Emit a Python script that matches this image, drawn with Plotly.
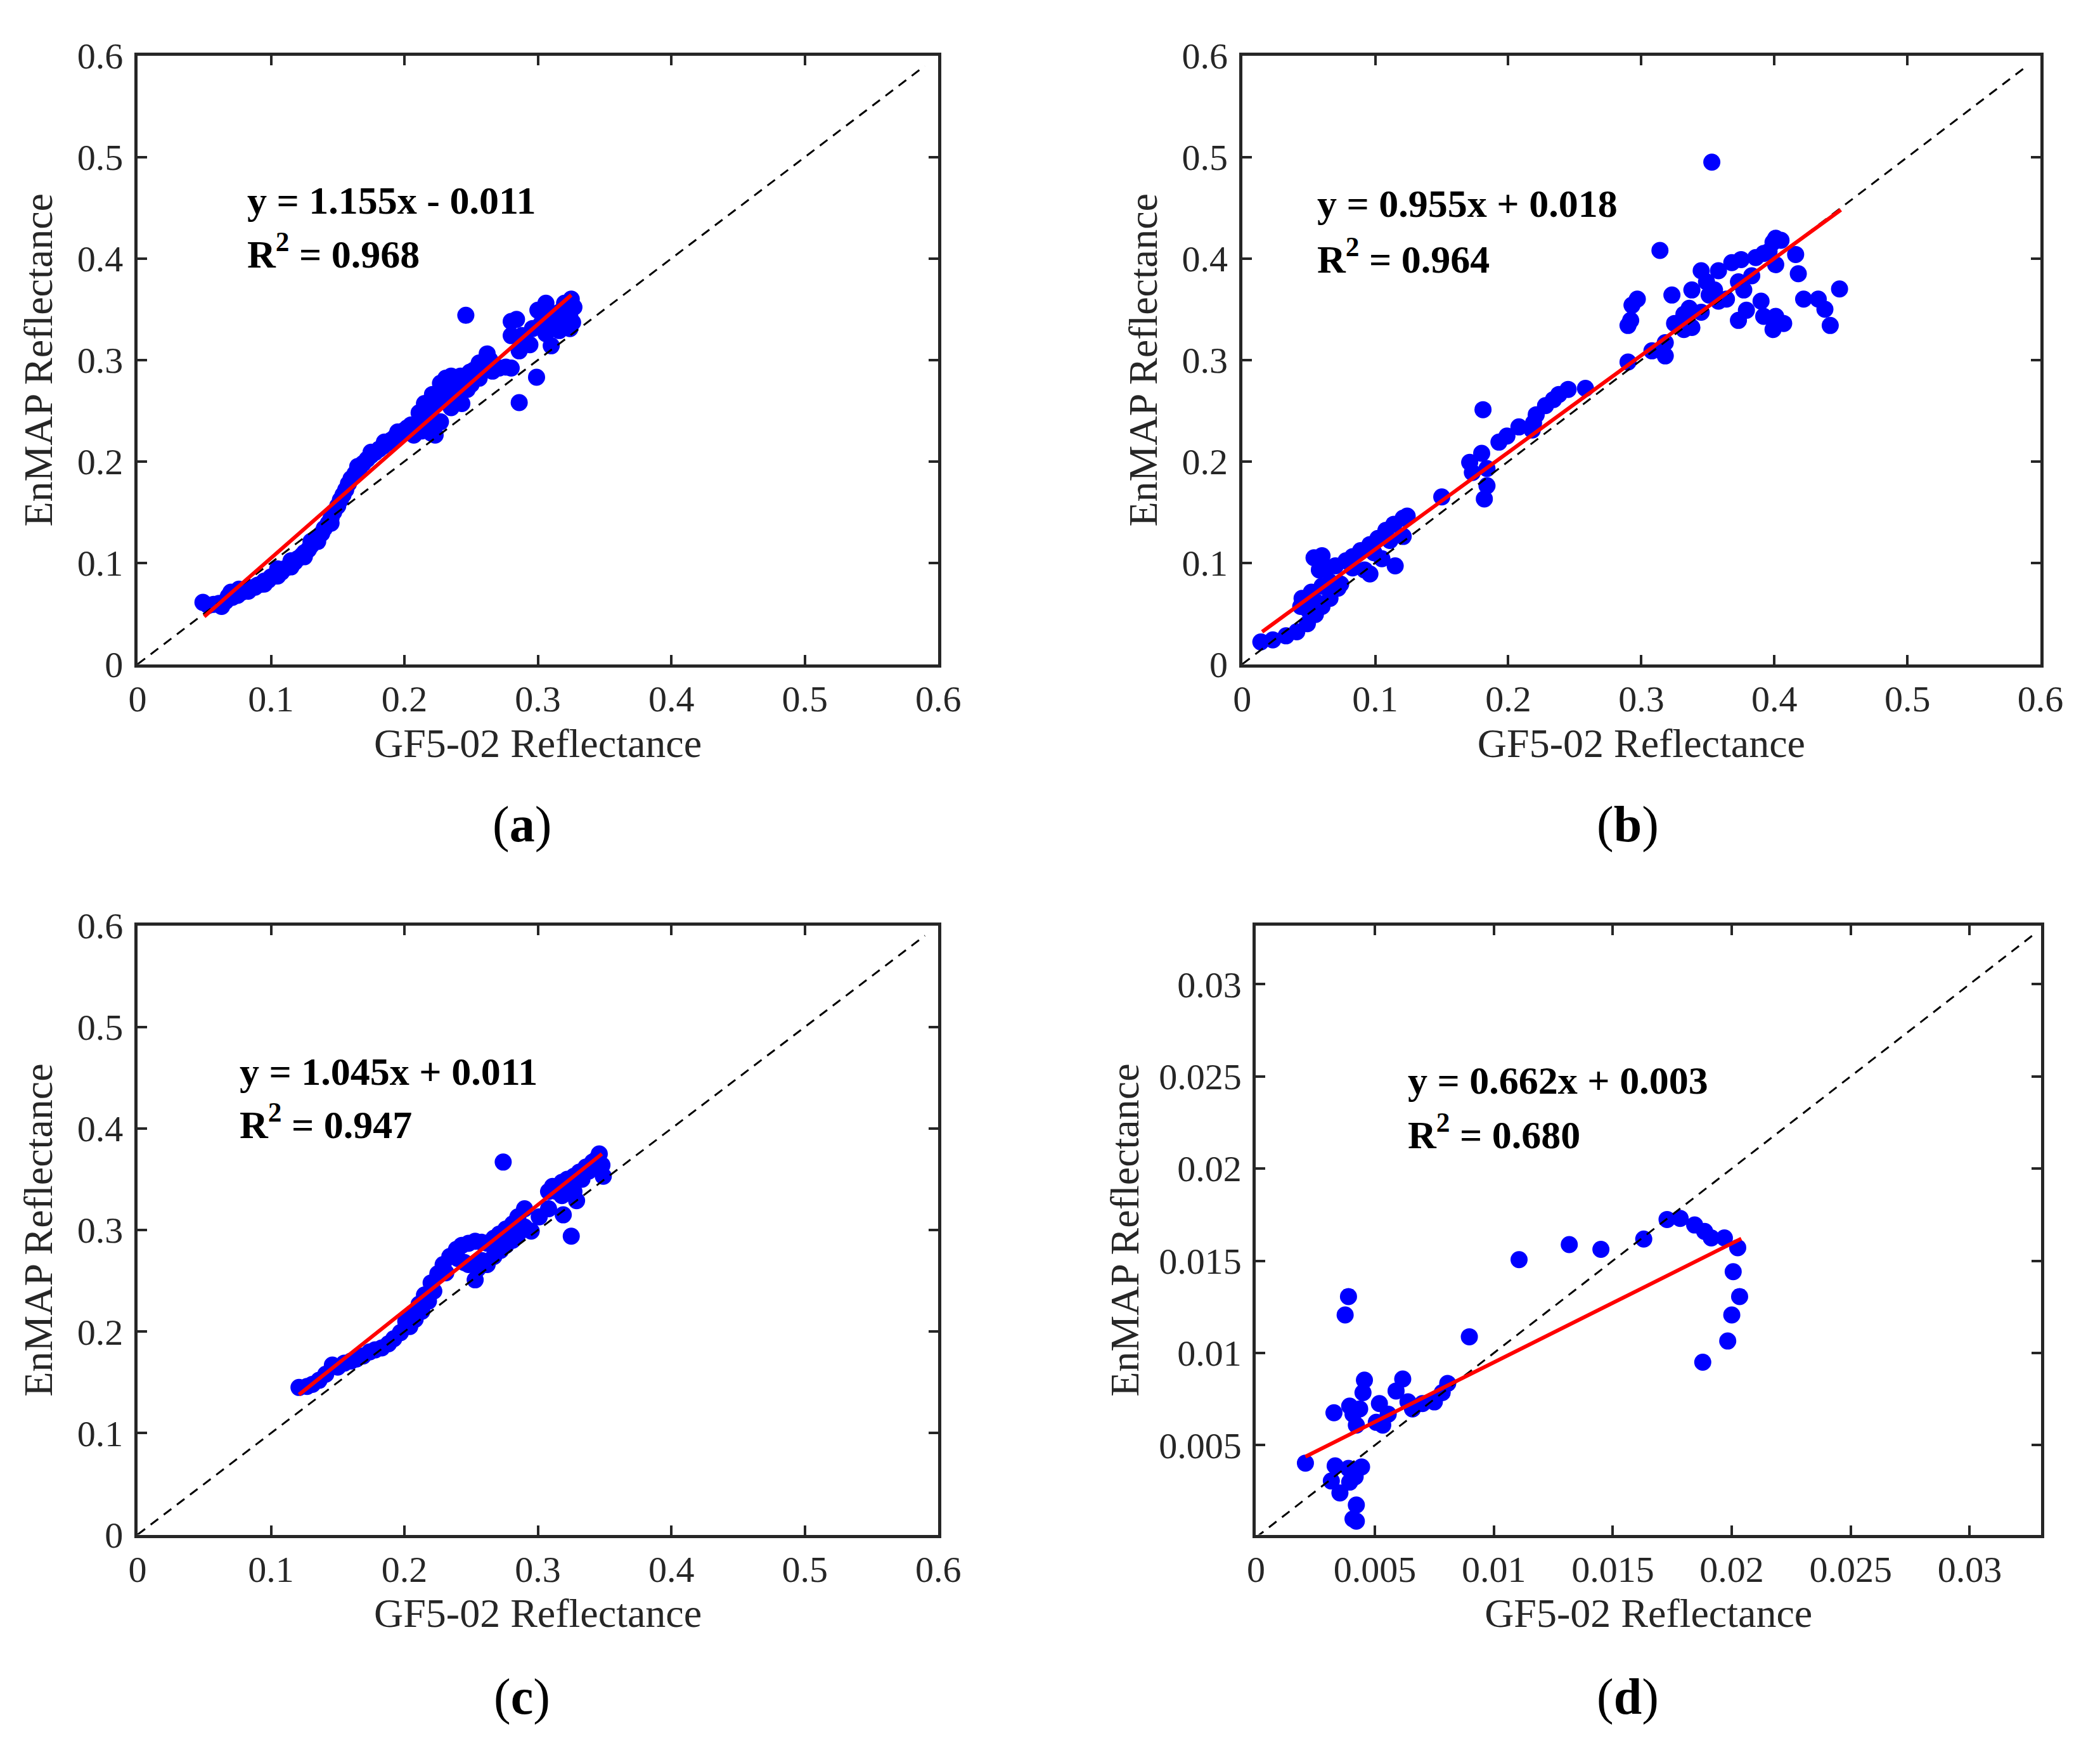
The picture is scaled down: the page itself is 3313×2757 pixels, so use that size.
import plotly.graph_objects as go
from plotly.subplots import make_subplots

# ---------------- data ----------------
# (a)
a_x = [0.049, 0.053, 0.057, 0.061, 0.063, 0.066, 0.068, 0.070, 0.071, 0.073, 0.075, 0.076, 0.078,
       0.080, 0.083, 0.085, 0.088, 0.090, 0.093, 0.095, 0.095, 0.098, 0.100, 0.103, 0.105, 0.105,
       0.105, 0.108, 0.110, 0.113, 0.115, 0.115, 0.115, 0.118, 0.120, 0.123, 0.125, 0.125, 0.128,
       0.130, 0.130, 0.133, 0.135, 0.135, 0.138, 0.140, 0.143, 0.145, 0.145, 0.147, 0.150, 0.152,
       0.154, 0.156, 0.158, 0.160, 0.163, 0.165, 0.166, 0.169, 0.172, 0.175, 0.175, 0.178, 0.181,
       0.184, 0.185, 0.187, 0.190, 0.193, 0.195, 0.196, 0.199, 0.202, 0.205,
       0.207, 0.210, 0.211, 0.213, 0.215, 0.215, 0.218, 0.220, 0.220, 0.221, 0.223, 0.225, 0.227,
       0.227, 0.230, 0.231, 0.233, 0.235, 0.235, 0.238, 0.240, 0.242, 0.243, 0.245, 0.247, 0.249,
       0.250, 0.252, 0.253, 0.256, 0.256, 0.258, 0.260, 0.262, 0.264, 0.266, 0.268, 0.271, 0.276,
       0.280, 0.280, 0.284, 0.280, 0.286, 0.288, 0.290, 0.294, 0.296, 0.300, 0.302, 0.306, 0.306,
       0.310, 0.312, 0.316, 0.316, 0.318, 0.320, 0.320, 0.322, 0.324, 0.324, 0.325, 0.326, 0.327,
       0.246, 0.310, 0.299, 0.286]
a_y = [0.061, 0.058, 0.059, 0.060, 0.057, 0.062, 0.067, 0.071, 0.066, 0.070, 0.068, 0.074, 0.071,
       0.073, 0.072, 0.075, 0.076, 0.078, 0.079, 0.082, 0.079, 0.083, 0.086, 0.087, 0.090, 0.087,
       0.094, 0.091, 0.094, 0.096, 0.099, 0.096, 0.102, 0.101, 0.104, 0.107, 0.110, 0.106, 0.113,
       0.117, 0.121, 0.121, 0.125, 0.121, 0.129, 0.134, 0.139, 0.144, 0.139, 0.150, 0.156, 0.162,
       0.167, 0.172, 0.178, 0.183, 0.188, 0.195, 0.193, 0.198, 0.202, 0.206, 0.209, 0.209, 0.212,
       0.215, 0.219, 0.218, 0.221, 0.224, 0.229, 0.227, 0.230, 0.233, 0.236,
       0.226, 0.238, 0.248, 0.230, 0.257, 0.245, 0.235, 0.252, 0.228, 0.266, 0.226, 0.258, 0.277,
       0.239, 0.262, 0.282, 0.270, 0.284, 0.253, 0.265, 0.275, 0.284, 0.257, 0.279, 0.271, 0.288,
       0.276, 0.290, 0.283, 0.297, 0.282, 0.291, 0.299, 0.306, 0.300, 0.289, 0.293, 0.292, 0.293,
       0.292, 0.338, 0.340, 0.324, 0.309, 0.324, 0.317, 0.315, 0.331, 0.349, 0.335, 0.356, 0.326,
       0.345, 0.338, 0.347, 0.329, 0.340, 0.356, 0.333, 0.350, 0.342, 0.331, 0.360, 0.337, 0.352,
       0.344, 0.314, 0.283, 0.258]

# (b)
b_x = [0.014, 0.023, 0.033, 0.041, 0.049, 0.055, 0.060, 0.066, 0.072, 0.074,
       0.045, 0.052, 0.060, 0.066, 0.044, 0.050, 0.056,
       0.054, 0.060, 0.058, 0.064, 0.070, 0.078, 0.083, 0.089, 0.096, 0.102, 0.108, 0.114,
       0.121, 0.124, 0.121, 0.096, 0.092, 0.115, 0.105, 0.099, 0.111, 0.083,
       0.150, 0.171, 0.173, 0.180, 0.181, 0.184, 0.182, 0.184,
       0.193, 0.199, 0.208, 0.219, 0.221, 0.228, 0.234, 0.238, 0.245, 0.258, 0.218,
       0.290, 0.292, 0.293, 0.297, 0.290, 0.308, 0.318, 0.318, 0.323,
       0.325, 0.332, 0.336, 0.332, 0.338, 0.338, 0.345, 0.349, 0.351, 0.355, 0.358, 0.358,
       0.345, 0.364, 0.368, 0.373, 0.375, 0.373, 0.377, 0.379, 0.383, 0.386, 0.390, 0.392,
       0.396, 0.399, 0.401, 0.405, 0.401, 0.399, 0.401, 0.407, 0.416, 0.418, 0.422, 0.433,
       0.438, 0.442, 0.449, 0.392,
       0.353, 0.314]
b_y = [0.022, 0.024, 0.028, 0.032, 0.040, 0.049, 0.057, 0.065, 0.075, 0.079,
       0.065, 0.071, 0.077, 0.081, 0.057, 0.053, 0.061,
       0.105, 0.107, 0.093, 0.095, 0.097, 0.102, 0.106, 0.112, 0.118, 0.124, 0.132, 0.138,
       0.144, 0.146, 0.126, 0.089, 0.093, 0.097, 0.104, 0.110, 0.122, 0.095,
       0.165, 0.199, 0.189, 0.208, 0.251, 0.176, 0.163, 0.193,
       0.219, 0.225, 0.234, 0.238, 0.246, 0.255, 0.261, 0.266, 0.271, 0.272, 0.231,
       0.298, 0.339, 0.354, 0.360, 0.334, 0.309, 0.304, 0.317, 0.364,
       0.336, 0.345, 0.351, 0.330, 0.332, 0.369, 0.388, 0.377, 0.364, 0.369, 0.388, 0.358,
       0.347, 0.360, 0.396, 0.339, 0.399, 0.377, 0.369, 0.349, 0.383, 0.401, 0.358, 0.343,
       0.407, 0.416, 0.420, 0.418, 0.394, 0.330, 0.343, 0.336, 0.404, 0.385, 0.360, 0.360,
       0.350, 0.334, 0.370, 0.405,
       0.495, 0.408]

# (c)
c_x = [0.121, 0.127, 0.131, 0.136, 0.141, 0.146, 0.150, 0.155, 0.160, 0.164, 0.169, 0.174,
       0.178, 0.183, 0.188, 0.192, 0.197, 0.201, 0.204, 0.206, 0.208, 0.211, 0.213, 0.215,
       0.218, 0.220, 0.222, 0.225, 0.229, 0.231, 0.234, 0.239, 0.243, 0.248, 0.253, 0.258,
       0.262, 0.267, 0.271, 0.276, 0.281, 0.285, 0.290,
       0.240, 0.245, 0.248, 0.253, 0.255, 0.258, 0.262, 0.267, 0.272, 0.276, 0.281, 0.285,
       0.290, 0.295, 0.301, 0.308,
       0.311, 0.314, 0.318, 0.322, 0.327, 0.331, 0.336, 0.341, 0.346, 0.348, 0.349, 0.327,
       0.318, 0.308, 0.344, 0.338, 0.333,
       0.274, 0.325, 0.319, 0.329]
c_y = [0.145, 0.146, 0.148, 0.152, 0.158, 0.167, 0.165, 0.169, 0.171, 0.173, 0.176, 0.180,
       0.182, 0.184, 0.188, 0.193, 0.199, 0.210, 0.205, 0.218, 0.212, 0.227, 0.220, 0.236,
       0.230, 0.248, 0.240, 0.257, 0.266, 0.258, 0.274, 0.281, 0.285, 0.287, 0.289, 0.288,
       0.287, 0.292, 0.296, 0.301, 0.306, 0.313, 0.321,
       0.272, 0.268, 0.266, 0.251, 0.262, 0.270, 0.266, 0.274, 0.280, 0.285, 0.290, 0.296,
       0.303, 0.299, 0.313, 0.321,
       0.343, 0.338, 0.347, 0.350, 0.353, 0.357, 0.362, 0.367, 0.375, 0.364, 0.353, 0.338,
       0.334, 0.338, 0.370, 0.358, 0.350,
       0.367, 0.294, 0.315, 0.329]

# (d)
d_x = [0.00208, 0.00328, 0.00333, 0.00317, 0.00353, 0.00375, 0.00389, 0.00394, 0.00408,
       0.00422, 0.00394, 0.00389, 0.00417, 0.00436, 0.00444, 0.00422, 0.00408, 0.00422,
       0.00450, 0.00456, 0.00506, 0.00519, 0.00533, 0.00556, 0.00589, 0.00617, 0.00639,
       0.00658, 0.00700, 0.00750, 0.00783, 0.00806, 0.00897, 0.01106, 0.01317, 0.01450,
       0.01630, 0.01728, 0.01783, 0.01844, 0.01886, 0.01914, 0.01969, 0.02025, 0.02006,
       0.02033, 0.02000, 0.01983, 0.01878]
d_y = [0.00403, 0.00676, 0.00388, 0.00306, 0.00241, 0.01206, 0.01306, 0.00712, 0.00668,
       0.00609, 0.00300, 0.00374, 0.00329, 0.00697, 0.00382, 0.00176, 0.00100, 0.00088,
       0.00785, 0.00853, 0.00624, 0.00726, 0.00609, 0.00668, 0.00794, 0.00859, 0.00735,
       0.00697, 0.00726, 0.00735, 0.00785, 0.00835, 0.01088, 0.01506, 0.01588, 0.01562,
       0.01618, 0.01724, 0.01730, 0.01694, 0.01659, 0.01624, 0.01624, 0.01571, 0.01441,
       0.01306, 0.01206, 0.01065, 0.00950]

# regression line end points
fit_a_x, fit_a_y = [0.050, 0.325], [0.047, 0.364]
fit_b_x, fit_b_y = [0.015, 0.450], [0.032, 0.448]
fit_c_x, fit_c_y = [0.121, 0.348], [0.138, 0.375]
fit_d_x, fit_d_y = [0.00208, 0.0204], [0.00438, 0.0162]

# 1:1 line
diag_big = [0, 0.59]
diag_small = [0, 0.0327]

eq_text = ["y = 1.155x - 0.011", "y = 0.955x + 0.018", "y = 1.045x + 0.011", "y = 0.662x + 0.003"]
r2_text = ["0.968", "0.964", "0.947", "0.680"]
panel_letters = ["a", "b", "c", "d"]

ticks_big = [0, 0.1, 0.2, 0.3, 0.4, 0.5, 0.6]
ticks_big_txt = ["0", "0.1", "0.2", "0.3", "0.4", "0.5", "0.6"]
ticks_d_x = [0, 0.005, 0.01, 0.015, 0.02, 0.025, 0.03]
ticks_d_x_txt = ["0", "0.005", "0.01", "0.015", "0.02", "0.025", "0.03"]
ticks_d_y = [0.005, 0.01, 0.015, 0.02, 0.025, 0.03]
ticks_d_y_txt = ["0.005", "0.01", "0.015", "0.02", "0.025", "0.03"]

# ---------------- figure ----------------
W, H = 3313, 2757
FONT = "Liberation Serif"
INK = "#262626"

# plot boxes in pixels: left, right, top, bottom
boxes = [(197, 1480, 49, 1032), (1967, 3246, 49, 1032),
         (197, 1480, 1454, 2438), (1989, 3247, 1454, 2438)]

fig = make_subplots(rows=2, cols=2)

panels = [
    (a_x, a_y, fit_a_x, fit_a_y, diag_big),
    (b_x, b_y, fit_b_x, fit_b_y, diag_big),
    (c_x, c_y, fit_c_x, fit_c_y, diag_big),
    (d_x, d_y, fit_d_x, fit_d_y, diag_small),
]
pos = [(1, 1), (1, 2), (2, 1), (2, 2)]

for (px, py, fx, fy, dg), (r, c) in zip(panels, pos):
    fig.add_trace(go.Scatter(x=px, y=py, mode="markers",
                             marker=dict(color="#0000FF", size=27, line=dict(width=0)),
                             showlegend=False), row=r, col=c)
    fig.add_trace(go.Scatter(x=dg, y=dg, mode="lines",
                             line=dict(color="black", width=3, dash="15px,11px"),
                             showlegend=False), row=r, col=c)
    fig.add_trace(go.Scatter(x=fx, y=fy, mode="lines",
                             line=dict(color="#FF0000", width=6),
                             showlegend=False), row=r, col=c)

axis_style = dict(showline=True, linecolor=INK, linewidth=5, mirror="ticks",
                  ticks="inside", ticklen=15, tickwidth=4, tickcolor=INK,
                  showgrid=False, zeroline=False,
                  tickfont=dict(family=FONT, size=58, color=INK),
                  title_font=dict(family=FONT, size=64, color=INK))

for i, (l, rgt, t, b) in enumerate(boxes):
    r, c = pos[i]
    fig.update_xaxes(domain=[l / W, rgt / W], row=r, col=c, **axis_style)
    fig.update_yaxes(domain=[1 - b / H, 1 - t / H], row=r, col=c, **axis_style)

for r, c in pos[:3]:
    fig.update_xaxes(range=[0, 0.6], tickvals=ticks_big, ticktext=ticks_big_txt,
                     title_text="GF5-02 Reflectance", title_standoff=16,
                     ticklabelstandoff=0, row=r, col=c)
    fig.update_yaxes(range=[0, 0.6], tickvals=ticks_big, ticktext=ticks_big_txt,
                     title_text="EnMAP Reflectance", title_standoff=20,
                     ticklabelstandoff=6, row=r, col=c)
fig.update_xaxes(range=[0, 0.033], tickvals=ticks_d_x, ticktext=ticks_d_x_txt,
                 title_text="GF5-02 Reflectance", title_standoff=16,
                 ticklabelstandoff=0, row=2, col=2)
fig.update_yaxes(range=[0.00015, 0.03318], tickvals=ticks_d_y, ticktext=ticks_d_y_txt,
                 title_text="EnMAP Reflectance", title_standoff=12,
                 ticklabelstandoff=6, row=2, col=2)

# equations inside each panel
eq_pos = [(0.135, 0.762, 0.679), (0.092, 0.757, 0.671),
          (0.126, 0.760, 0.678), (0.192, 0.746, 0.661)]
axis_ids = [("x", "y"), ("x2", "y2"), ("x3", "y3"), ("x4", "y4")]
for i, (ex, ey1, ey2) in enumerate(eq_pos):
    xa, ya = axis_ids[i]
    fig.add_annotation(x=ex, y=ey1, xref=xa + " domain", yref=ya + " domain",
                       text="<b>" + eq_text[i] + "</b>", showarrow=False,
                       xanchor="left", yanchor="middle",
                       font=dict(family=FONT, size=62, color="black"))
    fig.add_annotation(x=ex, y=ey2, xref=xa + " domain", yref=ya + " domain",
                       text="<b>R<sup>2</sup> = " + r2_text[i] + "</b>", showarrow=False,
                       xanchor="left", yanchor="middle",
                       font=dict(family=FONT, size=62, color="black"))

# panel letters
letter_pos = [(813, 1291), (2585, 1291), (813, 2700), (2585, 2700)]
for (lx, ly), letter in zip(letter_pos, panel_letters):
    fig.add_annotation(x=lx / W, y=1 - ly / H, xref="paper", yref="paper",
                       text="(<b>" + letter + "</b>)", showarrow=False,
                       xanchor="center", yanchor="middle",
                       font=dict(family=FONT, size=80, color="black"))

fig.update_layout(width=W, height=H, margin=dict(l=0, r=0, t=0, b=0),
                  paper_bgcolor="white", plot_bgcolor="white")

fig.write_html("out.html")
